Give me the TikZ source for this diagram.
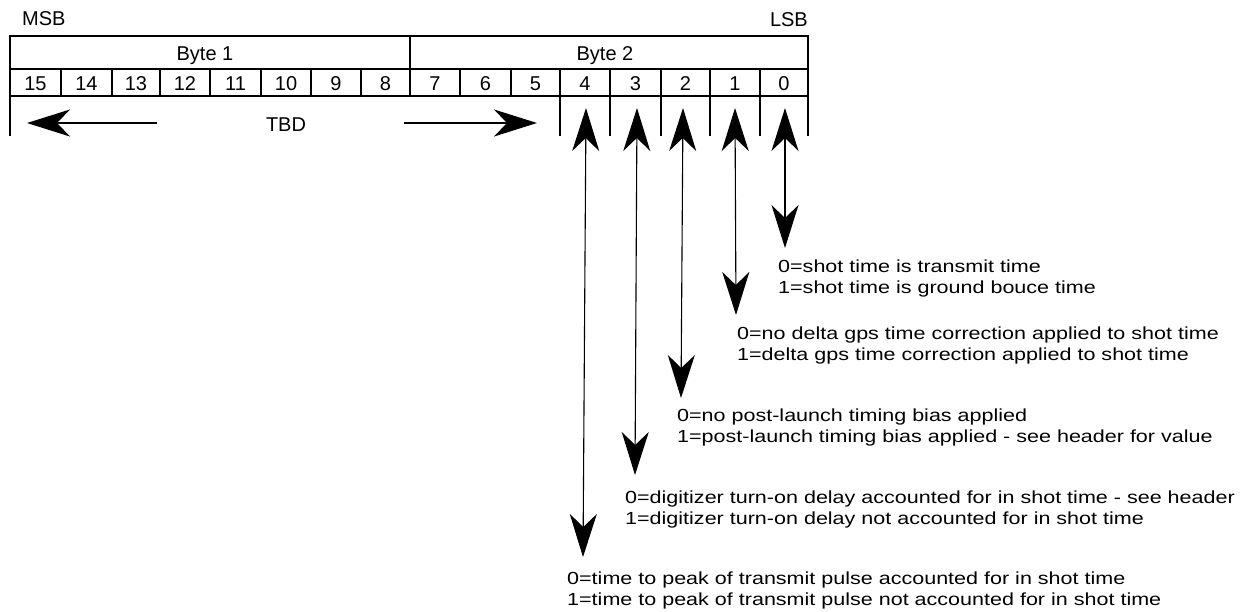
\documentclass[tikz,border=0pt]{standalone}
\usepackage{fontspec}
\setmainfont{Liberation Sans}
\newfontfamily\bodyfont[FakeStretch=1.23]{Liberation Sans}
\usetikzlibrary{arrows.meta}
\tikzset{
  bigtip/.tip={Stealth[length=43pt,width=27pt,inset=13pt]},
  tbl/.style={line width=1.1pt},
  hdr/.style={font=\fontsize{20}{22}\selectfont, inner sep=0pt},
  desc/.style={font=\bodyfont\fontsize{17.5}{20}\selectfont, inner sep=0pt, anchor=base west},
  dbl/.style={line width=1.1pt, bigtip-bigtip},
  sgl/.style={line width=1.1pt, -bigtip}
}
\begin{document}
\begin{tikzpicture}[x=1pt,y=-1pt]
\useasboundingbox (0,0) rectangle (1251,611);
% register table
\draw[tbl] (10,36) rectangle (808,96);
\draw[tbl] (10,69) -- (808,69);
\draw[tbl] (410,36) -- (410,69);
\foreach \x in {61,112,160,210,261,311,361,410,460,511,560,610,661,710,760}
  \draw[tbl] (\x,69) -- (\x,96);
\foreach \x in {10,560,610,661,710,760,808}
  \draw[tbl] (\x,96) -- (\x,136);
% headings
\node[hdr, anchor=base west] (msb) at (22,25) {MSB};
\node[hdr, anchor=base east] (lsb) at (808,26) {LSB};
\node[hdr, anchor=base] (byte1) at (205,60) {Byte 1};
\node[hdr, anchor=base] (byte2) at (605,60) {Byte 2};
\foreach \l/\c in {15/35.5,14/86.5,13/136,12/185,11/235.5,10/286,9/336,8/385.5,
                   7/435,6/485.5,5/535.5,4/585,3/635.5,2/685.5,1/735,0/784}
  \node[hdr, anchor=base] (bit\l) at (\c,90) {\l};
% TBD
\node[hdr, anchor=base] (tbd) at (286,131) {TBD};
\coordinate (tl0) at (157,123);
\coordinate (tl1) at (27,123);
\coordinate (tr0) at (404,123);
\coordinate (tr1) at (537,123);
\draw[sgl] (tl0) -- (tl1);
\draw[sgl] (tr0) -- (tr1);
% bit arrows
\coordinate (t4) at (586,108); \coordinate (e4) at (583,557);
\coordinate (t3) at (637,108); \coordinate (e3) at (635,475);
\coordinate (t2) at (683,108); \coordinate (e2) at (681,398);
\coordinate (t1) at (735,108); \coordinate (e1) at (736,315);
\coordinate (t0) at (785,108); \coordinate (e0) at (785,248);
\foreach \i in {0,...,4} \draw[dbl] (t\i) -- (e\i);
% descriptions
\node[desc] (d0a) at (778,272) {0=shot time is transmit time};
\node[desc] (d0b) at (778,293) {1=shot time is ground bouce time};
\node[desc] (d1a) at (737,339) {0=no delta gps time correction applied to shot time};
\node[desc] (d1b) at (737,360) {1=delta gps time correction applied to shot time};
\node[desc] (d2a) at (677,421) {0=no post-launch timing bias applied};
\node[desc] (d2b) at (677,442) {1=post-launch timing bias applied - see header for value};
\node[desc] (d3a) at (625,503) {0=digitizer turn-on delay accounted for in shot time - see header};
\node[desc] (d3b) at (625,524) {1=digitizer turn-on delay not accounted for in shot time};
\node[desc] (d4a) at (567,584) {0=time to peak of transmit pulse accounted for in shot time};
\node[desc] (d4b) at (567,605) {1=time to peak of transmit pulse not accounted for in shot time};
\end{tikzpicture}
\end{document}
